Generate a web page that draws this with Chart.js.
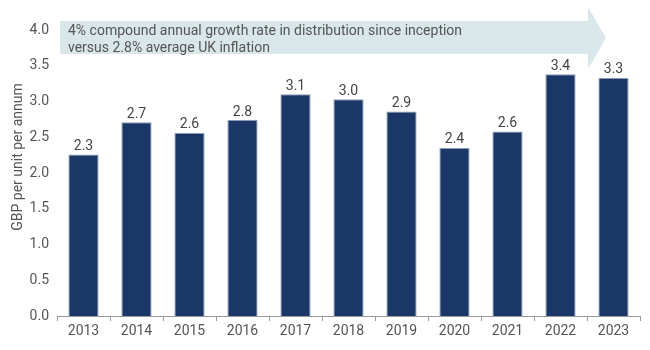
<!DOCTYPE html>
<html>
<head>
<meta charset="utf-8">
<script src="https://cdn.jsdelivr.net/npm/chart.js@4/dist/chart.umd.min.js"></script>
<style>
  html, body { margin: 0; padding: 0; background: #fff; }
  #wrap { width: 650px; height: 350px; }
</style>
</head>
<body>
<div id="wrap"><canvas id="distChart" width="650" height="350"></canvas></div>
<script>
// data
const years = ["2013", "2014", "2015", "2016", "2017", "2018", "2019", "2020", "2021", "2022", "2023"];
const distribution = [2.26, 2.71, 2.56, 2.74, 3.10, 3.03, 2.86, 2.35, 2.58, 3.38, 3.33];
const barLabels = ["2.3", "2.7", "2.6", "2.8", "3.1", "3.0", "2.9", "2.4", "2.6", "3.4", "3.3"];
const arrowLines = ["4% compound annual growth rate in distribution since inception", "versus 2.8% average UK inflation"];
const yTitle = "GBP per unit per annum";

const FONT = "Roboto, 'Noto Sans', sans-serif";

// big pale arrow with the note inside, behind the bars
const arrowPlugin = {
  id: "arrowNote",
  beforeDatasetsDraw(chart) {
    const ctx = chart.ctx;
    const y4 = chart.scales.y.getPixelForValue(4);
    const left = chart.chartArea.left + 3;
    const top = y4 - 9;
    const bottom = y4 + 24;
    const mid = y4 + 8;
    const bodyEnd = 588;
    const tip = 606;
    ctx.save();
    ctx.fillStyle = "#d9e6ea";
    ctx.beginPath();
    ctx.moveTo(left, top);
    ctx.lineTo(bodyEnd, top);
    ctx.lineTo(bodyEnd, mid - 31);
    ctx.lineTo(tip, mid);
    ctx.lineTo(bodyEnd, mid + 31);
    ctx.lineTo(bodyEnd, bottom);
    ctx.lineTo(left, bottom);
    ctx.closePath();
    ctx.fill();
    ctx.fillStyle = "#555";
    ctx.font = "14px " + FONT;
    ctx.textBaseline = "middle";
    ctx.fillText(arrowLines[0], left + 8, y4 + 1);
    ctx.fillText(arrowLines[1], left + 8, y4 + 18);

    // axis title, placed a bit above the middle like the reference
    ctx.save();
    ctx.translate(18, 157);
    ctx.rotate(-Math.PI / 2);
    ctx.textAlign = "center";
    ctx.font = "14px " + FONT;
    ctx.fillText(yTitle, 0, 0);
    ctx.restore();
    ctx.restore();
  }
};

// value labels on top of bars
const labelPlugin = {
  id: "barValues",
  afterDatasetsDraw(chart) {
    const ctx = chart.ctx;
    const meta = chart.getDatasetMeta(0);
    ctx.save();
    ctx.fillStyle = "#444";
    ctx.font = "14px " + FONT;
    ctx.textAlign = "center";
    ctx.textBaseline = "bottom";
    meta.data.forEach((bar, i) => {
      ctx.fillText(barLabels[i], bar.x, bar.y - 1);
    });
    ctx.restore();
  }
};

new Chart(document.getElementById("distChart"), {
  type: "bar",
  data: {
    labels: years,
    datasets: [{
      data: distribution,
      backgroundColor: "#1b3767",
      borderColor: "#8a9bb3",
      borderWidth: 1,
      barPercentage: 0.57,
      categoryPercentage: 1.0
    }]
  },
  options: {
    responsive: false,
    animation: false,
    layout: { padding: { top: 30, right: 10, left: 0, bottom: 0 } },
    plugins: {
      legend: { display: false },
      tooltip: { enabled: false }
    },
    scales: {
      x: {
        offset: true,
        grid: {
          offset: true,
          drawOnChartArea: false,
          drawTicks: true,
          tickLength: 5,
          color: "#999"
        },
        border: { display: true, color: "#999" },
        ticks: { color: "#555", font: { family: FONT, size: 14 }, padding: 2 },
        afterFit(scale) { scale.height = 34; }
      },
      y: {
        min: 0,
        max: 4,
        grid: { display: false },
        border: { display: false },
        ticks: {
          stepSize: 0.5,
          color: "#555",
          font: { family: FONT, size: 14 },
          padding: 0,
          callback: (v) => v.toFixed(1)
        },
        afterFit(scale) { scale.width = 57; }
      }
    }
  },
  plugins: [arrowPlugin, labelPlugin]
});
</script>
</body>
</html>
